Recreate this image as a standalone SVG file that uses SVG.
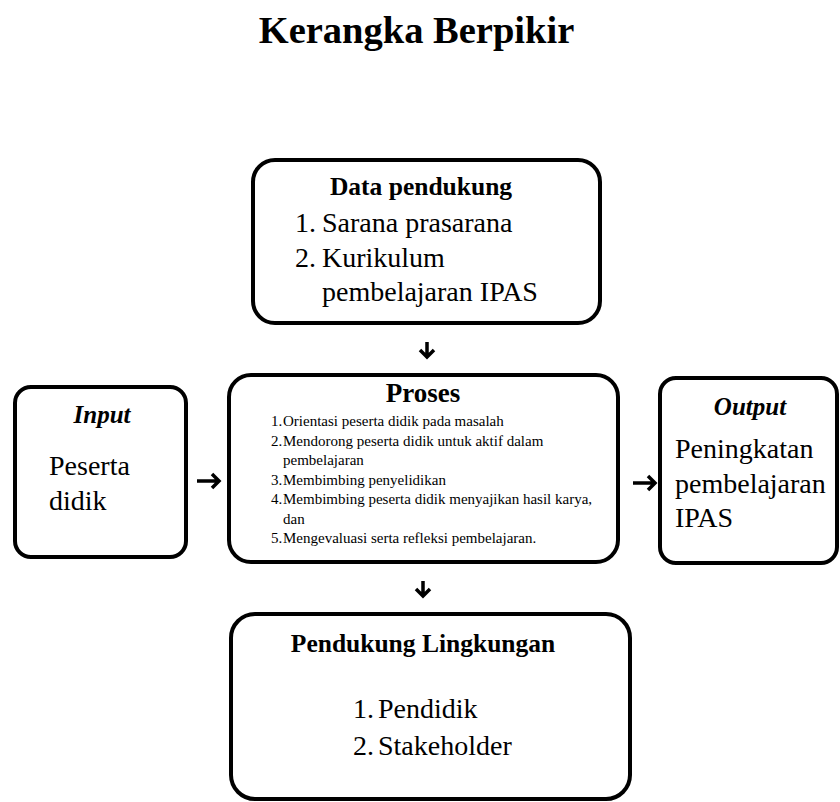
<svg xmlns="http://www.w3.org/2000/svg" width="840" height="802" viewBox="0 0 840 802">
<style>
.box{fill:#fff;stroke:#000;stroke-width:4}
text{font-family:"Liberation Serif","Times New Roman",serif;fill:#000}
.b{font-weight:bold}
.bi{font-weight:bold;font-style:italic}
.c{text-anchor:middle}
.l{font-size:28px}
.s{font-size:15px}
.arr{fill:none;stroke:#000;stroke-width:3.5;stroke-linejoin:miter}
</style>
<rect width="840" height="802" fill="#fff"/>
<text class="b c" x="416.5" y="43" font-size="38.5">Kerangka Berpikir</text>

<g id="data-pendukung">
<rect class="box" x="253" y="160" width="347" height="163" rx="22"/>
<text class="b c" x="421" y="195" font-size="25.5">Data pendukung</text>
<text class="l" x="295" y="232">1.</text><text class="l" x="322" y="232">Sarana prasarana</text>
<text class="l" x="295" y="267">2.</text><text class="l" x="322" y="267">Kurikulum</text>
<text class="l" x="322" y="301">pembelajaran IPAS</text>
</g>

<g id="input">
<rect class="box" x="15" y="387" width="171" height="170" rx="16"/>
<text class="bi c" x="102" y="423" font-size="25">Input</text>
<text class="l" x="49" y="475">Peserta</text>
<text class="l" x="49" y="510">didik</text>
</g>

<g id="proses">
<rect class="box" x="229" y="375" width="389" height="187" rx="22"/>
<text class="b c" x="423" y="402" font-size="27">Proses</text>
<text class="s" x="271" y="426">1.</text><text class="s" x="283" y="426">Orientasi peserta didik pada masalah</text>
<text class="s" x="271" y="445.5">2.</text><text class="s" x="283" y="445.5">Mendorong peserta didik untuk aktif dalam</text>
<text class="s" x="283" y="465">pembelajaran</text>
<text class="s" x="271" y="484.5">3.</text><text class="s" x="283" y="484.5">Membimbing penyelidikan</text>
<text class="s" x="271" y="504">4.</text><text class="s" x="283" y="504">Membimbing peserta didik menyajikan hasil karya,</text>
<text class="s" x="283" y="523.5">dan</text>
<text class="s" x="271" y="543">5.</text><text class="s" x="283" y="543">Mengevaluasi serta refleksi pembelajaran.</text>
</g>

<g id="output">
<rect class="box" x="660" y="378" width="177" height="185" rx="16"/>
<text class="bi c" x="750" y="415" font-size="25">Output</text>
<text class="l" x="675" y="458">Peningkatan</text>
<text class="l" x="675" y="493">pembelajaran</text>
<text class="l" x="675" y="527">IPAS</text>
</g>

<g id="pendukung-lingkungan">
<rect class="box" x="231" y="614" width="399" height="185" rx="24"/>
<text class="b c" x="423" y="652" font-size="25.5">Pendukung Lingkungan</text>
<text class="l" x="353" y="718">1.</text><text class="l" x="378" y="718">Pendidik</text>
<text class="l" x="353" y="755">2.</text><text class="l" x="378" y="755">Stakeholder</text>
</g>

<g id="connectors">
<path class="arr" d="M427 342 V357 M420 350 L427 357 L434 350"/>
<path class="arr" d="M423 581 V596 M416 589 L423 596 L430 589"/>
<path class="arr" d="M197 481 H219 M212 474 L219 481 L212 488"/>
<path class="arr" d="M633 483 H655 M648 476 L655 483 L648 490"/>
</g>
</svg>
